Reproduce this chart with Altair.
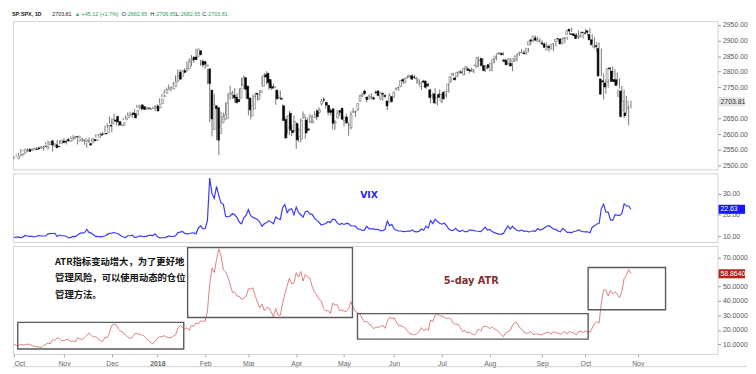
import altair as alt
import pandas as pd

# ---------------- data (S&P 500 daily candles, Oct 2 2017 .. Oct 29 2018) ----------------
open_ = [
 2521,2530,2533,2540,2547,2551,2549,2550,2552,2556,2555,2556,2562,2553,2567,2579,2568,2566,2561,2570,2578,2576,
 2583,2577,2581,2587,2592,2588,2581,2580,2576,2577,2570,2572,2583,2580,2589,2600,2600,2603,2606,2628,2634,
 2645,2657,2640,2627,2628,2646,2653,2661,2668,2666,2661,2685,2694,2688,2683,2684,2680,2683,2686,2690,
 2684,2698,2720,2731,2743,2751,2745,2752,2770,2798,2785,2803,2802,2809,2835,2846,2847,2848,2867,2833,2832,
 2817,2809,2741,2615,2691,2685,2602,2636,2646,2651,2713,2727,2725,2718,2711,2715,2757,2781,2754,
 2716,2658,2681,2731,2711,2733,2753,2790,2795,2775,2752,2750,2741,2716,2715,2691,2647,2620,2667,2612,2610,
 2634,2593,2585,2654,2645,2617,2638,2636,2653,2675,2670,2697,2710,2702,2692,2676,2681,2635,2652,2675,2683,
 2643,2655,2629,2621,2670,2671,2678,2705,2723,2738,2719,2713,2719,2717,2735,2738,2713,2731,2724,2706,2702,2720,
 2719,2742,2749,2753,2775,2765,2780,2785,2787,2783,2777,2766,2752,2770,2770,2760,2742,2722,2729,2699,2728,
 2705,2734,2724,2738,2766,2789,2780,2784,2797,2799,2790,2811,2809,2805,2800,2820,2817,2836,2842,2819,2810,
 2822,2803,2829,2841,2856,2857,2858,2838,2836,2828,2827,2831,2838,2854,2861,2860,2860,2862,2885,2902,2900,2908,2898,
 2897,2892,2889,2869,2882,2872,2889,2896,2906,2904,2891,2906,2919,2936,2921,2921,2917,2911,2911,
 2927,2924,2931,2919,2902,2878,2883,2874,2777,2771,2764,2768,2812,2802,2775,2774,2721,2738,2675,2668,2682.65,
]
high_ = [
 2529,2535,2540,2552,2550,2552,2555,2555,2555,2557,2559,2560,2563,2563,2575,2579,2573,2567,2567,2582,2580,2578,
 2588,2583,2588,2593,2597,2595,2587,2583,2588,2580,2572,2590,2583,2585,2600,2600,2605,2607,2628,2634,2657,
 2650,2666,2648,2634,2641,2652,2660,2670,2672,2669,2680,2694,2695,2691,2693,2686,2682,2685,2688,2693,
 2696,2715,2729,2743,2749,2759,2751,2768,2788,2807,2807,2806,2811,2833,2843,2853,2849,2873,2870,2838,2839,
 2835,2809,2763,2701,2728,2685,2639,2672,2669,2702,2731,2755,2738,2747,2731,2747,2780,2789,2761,
 2730,2694,2728,2732,2731,2741,2787,2796,2802,2777,2763,2762,2742,2725,2740,2695,2657,2660,2675,2630,2660,
 2638,2619,2650,2673,2656,2653,2665,2662,2674,2680,2686,2713,2718,2703,2694,2683,2683,2645,2677,2677,2683,
 2655,2665,2638,2673,2684,2676,2700,2726,2733,2742,2719,2727,2731,2720,2740,2742,2734,2732,2727,2707,2731,2722,
 2736,2749,2752,2772,2779,2779,2790,2790,2792,2790,2783,2775,2766,2774,2771,2765,2745,2733,2747,2725,2743,
 2727,2737,2737,2764,2784,2796,2786,2799,2805,2802,2811,2816,2811,2812,2808,2829,2848,2845,2843,2822,2824,
 2826,2829,2841,2853,2863,2863,2862,2842,2843,2844,2828,2851,2856,2860,2873,2868,2868,2876,2898,2903,2916,2913,2907,
 2900,2893,2893,2883,2884,2892,2895,2906,2908,2909,2912,2912,2935,2941,2923,2924,2932,2927,2920,
 2937,2932,2939,2920,2910,2894,2894,2874,2795,2775,2776,2814,2817,2807,2797,2779,2754,2743,2723,2692,2706.85,
]
low_ = [
 2520,2528,2532,2539,2545,2541,2543,2547,2548,2552,2552,2552,2557,2548,2567,2564,2566,2544,2559,2566,2569,2572,
 2574,2567,2576,2585,2584,2585,2567,2576,2575,2566,2557,2572,2576,2575,2589,2594,2599,2598,2606,2620,2634,
 2606,2639,2627,2625,2628,2645,2651,2660,2662,2652,2657,2685,2680,2676,2683,2678,2677,2678,2684,2673,
 2682,2698,2719,2728,2737,2747,2736,2752,2768,2768,2776,2789,2795,2808,2830,2817,2828,2847,2852,2819,2814,
 2809,2760,2638,2593,2681,2581,2533,2622,2646,2648,2689,2725,2713,2701,2698,2714,2753,2744,2713,
 2660,2647,2675,2712,2708,2722,2753,2780,2759,2742,2741,2749,2694,2714,2710,2642,2585,2602,2597,2594,2610,
 2553,2575,2574,2649,2586,2610,2636,2635,2653,2645,2665,2692,2704,2682,2660,2660,2615,2613,2651,2659,2648,
 2625,2633,2595,2615,2668,2655,2675,2705,2719,2725,2702,2712,2711,2709,2727,2721,2709,2707,2715,2677,2702,2700,
 2718,2741,2739,2750,2760,2763,2779,2780,2775,2776,2761,2757,2741,2764,2745,2751,2699,2712,2699,2692,2718,
 2699,2712,2717,2733,2766,2786,2772,2784,2793,2794,2789,2805,2795,2799,2795,2811,2815,2834,2808,2799,2808,
 2810,2801,2827,2836,2855,2853,2852,2826,2820,2828,2802,2831,2833,2850,2861,2858,2854,2862,2885,2894,2898,2896,2893,
 2885,2876,2873,2864,2873,2866,2880,2896,2895,2887,2891,2902,2919,2927,2913,2913,2904,2911,2906,
 2918,2915,2922,2893,2874,2862,2874,2785,2711,2729,2749,2768,2782,2756,2760,2746,2692,2652,2668,2628,2682.65,
]
close_ = [
 2529,2535,2538,2552,2549,2545,2551,2555,2551,2553,2558,2559,2561,2562,2575,2565,2569,2557,2560,2581,2573,2575,
 2579,2580,2588,2591,2591,2594,2585,2582,2585,2579,2565,2586,2579,2582,2599,2597,2602,2601,2627,2626,2648,
 2642,2639,2630,2629,2637,2652,2660,2664,2663,2652,2676,2690,2681,2679,2685,2683,2681,2683,2688,2674,
 2696,2713,2724,2743,2748,2751,2748,2768,2786,2776,2803,2798,2810,2833,2839,2838,2839,2873,2854,2822,2824,
 2822,2762,2649,2695,2682,2581,2620,2656,2663,2699,2731,2732,2716,2701,2704,2747,2780,2744,2714,
 2678,2691,2721,2728,2727,2739,2787,2783,2765,2749,2747,2752,2713,2717,2712,2644,2588,2659,2613,2605,2641,
 2582,2614,2645,2663,2604,2613,2657,2642,2664,2656,2678,2706,2709,2693,2670,2670,2635,2639,2667,2670,2648,
 2655,2636,2630,2663,2673,2672,2698,2723,2728,2730,2711,2722,2720,2713,2733,2724,2733,2728,2721,2690,2724,2705,
 2735,2747,2749,2772,2770,2779,2782,2787,2776,2782,2780,2774,2763,2767,2750,2755,2717,2723,2700,2716,2718,
 2727,2713,2737,2760,2784,2794,2774,2798,2801,2798,2810,2816,2804,2802,2807,2820,2846,2837,2819,2803,2816,
 2813,2827,2840,2850,2858,2858,2854,2833,2822,2840,2818,2841,2850,2857,2863,2862,2857,2875,2897,2898,2914,2901,2902,
 2897,2889,2878,2872,2877,2888,2889,2904,2905,2889,2904,2908,2931,2930,2919,2916,2906,2914,2914,
 2925,2923,2926,2902,2886,2884,2880,2786,2728,2767,2751,2810,2809,2769,2768,2756,2741,2656,2706,2659,2703.81,
]
vix_ = [
 9.45,9.51,9.63,9.19,9.65,10.33,10.08,9.85,9.91,9.61,9.91,10.31,10.07,10.05,10.07,11.07,11.16,11.23,11.30,9.80,10.50,10.18,
 10.18,9.93,9.14,9.40,9.89,9.78,10.50,11.29,11.50,11.59,13.13,11.76,11.43,10.65,9.73,9.88,9.67,9.87,10.03,10.70,11.28,
 11.43,11.68,11.33,11.02,10.16,9.58,9.34,10.18,10.18,10.49,9.42,9.53,10.03,10.03,9.72,9.90,10.25,10.47,10.18,11.04,
 9.77,9.15,9.22,9.22,9.52,10.08,9.82,9.88,10.16,11.66,11.91,12.22,11.27,11.03,11.10,11.47,11.58,11.08,13.84,14.79,13.54,
 13.47,17.31,37.32,29.98,27.73,33.46,29.06,25.61,24.97,19.26,19.13,19.46,20.60,20.02,18.72,16.49,15.80,18.59,19.85,
 22.47,19.59,18.73,18.36,17.76,16.54,14.64,15.78,16.35,17.23,16.59,15.80,19.02,18.20,17.86,23.34,24.87,21.03,22.50,22.87,19.97,
 23.62,21.10,20.06,18.94,21.49,21.77,20.47,20.24,18.49,17.41,16.56,15.25,15.60,15.96,16.88,16.34,18.02,17.84,16.24,15.41,15.93,
 15.49,15.97,15.90,14.77,14.75,14.71,13.42,13.23,12.65,12.93,14.63,13.42,13.43,13.42,13.08,13.22,12.58,12.53,13.22,17.02,14.94,15.43,
 13.46,12.74,12.40,12.40,12.13,12.18,12.35,12.34,12.94,12.12,11.98,12.31,13.35,12.79,14.64,13.77,17.33,15.92,17.91,16.85,16.09,
 15.60,16.14,14.97,13.37,12.69,12.64,13.63,12.58,12.18,12.83,12.06,12.10,12.87,12.86,12.62,12.41,12.29,12.14,13.03,14.26,12.83,
 13.15,12.19,11.64,11.27,10.93,10.85,11.27,13.16,14.78,13.31,14.64,13.45,12.64,12.49,12.86,12.25,12.41,11.99,12.16,12.50,12.25,13.53,12.86,
 13.16,13.91,14.65,14.88,14.16,13.22,13.14,12.37,12.07,13.68,12.79,11.75,11.80,11.68,12.20,12.42,12.89,12.41,12.12,
 12.00,12.05,11.61,14.22,14.82,15.69,15.95,22.96,24.98,21.31,21.30,17.62,17.40,20.06,19.89,19.64,20.71,25.23,24.22,24.16,22.63,
]
atr_ = [
 10.0,9.4,9.1,10.1,9.5,9.8,10.2,9.8,9.2,8.6,8.3,8.2,7.8,9.2,10.0,11.0,10.4,13.3,12.7,14.5,14.0,12.4,
 12.7,13.4,13.1,12.1,12.3,11.8,14.8,13.7,13.5,14.6,16.1,17.9,16.3,15.0,15.6,13.7,12.6,11.9,14.9,14.7,18.0,
 23.2,24.0,23.4,20.5,19.0,18.2,16.4,15.1,14.1,14.7,17.4,17.5,17.0,16.6,16.1,14.5,12.8,11.6,10.3,12.2,
 14.2,15.2,15.3,16.0,15.2,14.6,14.7,15.7,16.6,21.0,23.0,21.8,20.7,21.5,19.8,23.0,22.6,24.9,24.1,26.3,26.0,
 26.0,33.2,51.6,62.9,59.7,68.6,76.1,71.3,61.6,60.1,56.5,51.2,46.0,46.0,43.4,43.3,41.2,42.0,43.2,
 48.6,48.3,49.2,43.4,39.3,35.2,37.8,33.4,35.3,35.2,32.6,29.1,34.9,30.3,30.2,38.2,45.0,50.4,55.9,51.9,52.5,
 59.6,56.5,60.4,53.9,58.5,56.6,55.7,50.0,46.4,44.1,41.3,40.0,34.8,33.2,33.4,31.3,38.6,37.3,37.4,33.5,33.8,
 33.0,32.8,34.8,39.5,35.8,32.8,31.9,31.1,27.7,25.6,26.0,24.0,23.2,20.8,22.0,21.8,22.5,23.2,21.1,25.7,28.8,27.8,
 28.4,25.5,23.0,23.0,22.2,21.0,19.0,17.2,17.2,16.5,17.6,18.7,21.6,19.5,20.8,19.6,26.9,25.7,30.2,30.8,30.0,
 29.6,28.7,27.8,28.4,27.5,24.4,23.9,24.1,21.7,19.0,19.6,17.9,18.5,17.4,16.5,17.6,20.7,19.0,22.2,22.4,22.1,
 20.9,22.3,20.6,19.9,18.5,16.8,15.4,17.9,18.9,19.6,23.3,25.2,24.8,21.8,20.7,18.5,17.6,17.9,18.9,16.9,17.1,17.3,16.7,
 16.7,17.6,18.1,18.3,17.0,18.8,18.0,17.8,16.9,17.9,18.9,17.1,19.1,18.1,17.9,16.5,18.8,19.2,18.2,
 19.2,18.7,18.4,21.3,24.2,25.8,24.6,38.7,47.8,47.6,43.5,47.4,44.9,46.5,44.6,42.3,46.6,55.5,57.8,61.8,58.864,
]
# month-start bar indices and their tick labels
month_idx = [0, 22, 43, 63, 84, 103, 124, 145, 167, 188, 209, 232, 251, 274]
month_lbl = ["Oct", "Nov", "Dec", "2018", "Feb", "Mar", "Apr", "May", "Jun", "Jul", "Aug", "Sep", "Oct", "Nov"]

# axis ticks (labels hidden by the last-value boxes are left out, as in the reference)
price_ticks = [2500, 2550, 2600, 2650, 2750, 2800, 2850, 2900, 2950]
vix_ticks = [10, 20, 30]
atr_ticks = [10, 20, 30, 40, 50, 70]

# annotation boxes on the ATR pane (bar index / ATR value)
box_x1 = [1.7, 76.3, 150.9, 252.2]
box_x2 = [74.6, 148.7, 252.2, 286.2]
box_lo = [6.8, 28.6, 13.6, 34.0]
box_hi = [25.2, 77.0, 31.3, 63.2]

note_lines = ["ATR指标变动增大，为了更好地", "管理风险，可以使用动态的仓位", "管理方法。"]
note_x = 18.1
note_y = [67.3, 55.7, 44.2]

header_text = ["SP:SPX, 1D", "2703.81", "▲", "+45.12 (+1.7%)", "O:", "2682.65", "H:", "2706.85",
               "L:", "2682.65", "C:", "2703.81"]
header_col = ["#222222", "#222222", "#26a65b", "#26a65b", "#222222", "#26a65b", "#222222", "#26a65b",
              "#222222", "#26a65b", "#222222", "#26a65b"]
header_bold = [True] + [False] * 11
header_x = [-1, 40, 63, 70, 111, 117, 140, 146, 166, 171, 193, 199]

# ---------------- chart ----------------
n = len(close_)
df = pd.DataFrame({"i": list(range(n)), "o": open_, "h": high_, "l": low_, "c": close_,
                   "vix": vix_, "atr": atr_})

W = 718
H1, H2, H3 = 151, 70, 110
FONT = "Liberation Sans"
xs = alt.Scale(domain=[-0.43, 309.05], nice=False, zero=False)
p_dom = [2487.4, 2961.6]
v_dom = [7.23, 39.56]
a_dom = [3.41, 78.15]
ps = alt.Scale(domain=p_dom, nice=False, zero=False)
vs = alt.Scale(domain=v_dom, nice=False, zero=False)
as_ = alt.Scale(domain=a_dom, nice=False, zero=False)


def raxis(values, fmt):
    return alt.Axis(orient="right", values=values, format=fmt, labelFontSize=7, labelColor="#555555",
                    labelFont=FONT, tickColor="#999999", tickSize=3, domain=False, grid=False,
                    labelPadding=2, title=None)


pax = raxis(price_ticks, ".2f")
vax = raxis(vix_ticks, ".2f")
aax = raxis(atr_ticks, ".4f")

label_expr = ""
for k, t in zip(month_idx, month_lbl):
    label_expr += f"datum.value == {k} ? '{t}' : "
label_expr += "''"
xax = alt.Axis(values=month_idx, labelExpr=label_expr, labelFontSize=7, labelColor="#666666",
               labelFont=FONT, tickColor="#aaaaaa", tickSize=3, domain=False, grid=False,
               labelPadding=3, title=None,
               labelAlign={"condition": {"test": "datum.value == 0", "value": "left"}, "value": "center"},
               labelFontWeight={"condition": {"test": "datum.value == 63", "value": "bold"}, "value": "normal"})

X0 = alt.X("i:Q", scale=xs, axis=None)
base = alt.Chart(df)


def value_box(value, text, dom, h, fill, txt_color, scale, axis):
    half = 4.6 * (dom[1] - dom[0]) / h
    d = pd.DataFrame({"v": [value], "lo": [value - half], "hi": [value + half], "t": [text]})
    box = alt.Chart(d).mark_rect(fill=fill).encode(
        x=alt.value(W + 1), x2=alt.value(W + 28),
        y=alt.Y("lo:Q", scale=scale, axis=axis), y2="hi:Q")
    lab = alt.Chart(d).mark_text(align="left", baseline="middle", fontSize=7, font=FONT, color=txt_color).encode(
        x=alt.value(W + 3), y=alt.Y("v:Q", scale=scale, axis=axis), text="t:N")
    return box + lab


# ---- price pane ----
wick = base.mark_rule(color="#555555", strokeWidth=0.8).encode(
    x=X0, y=alt.Y("l:Q", scale=ps, axis=pax), y2="h:Q")
body = base.mark_bar(size=1.8, strokeWidth=0.6).encode(
    x=X0, y=alt.Y("o:Q", scale=ps, axis=pax), y2="c:Q",
    fill=alt.condition("datum.c >= datum.o", alt.value("#ffffff"), alt.value("#000000")),
    stroke=alt.condition("datum.c >= datum.o", alt.value("#666666"), alt.value("#000000")))
hdf = pd.DataFrame({"t": header_text, "col": header_col, "b": header_bold, "x": header_x})
hx = alt.X("x:Q", scale=alt.Scale(domain=[0, W], range=[0, W]), axis=None)
header_b = alt.Chart(hdf).transform_filter("datum.b").mark_text(
    align="left", baseline="middle", fontSize=5.5, font=FONT, fontWeight="bold").encode(
    x=hx, y=alt.value(-7), text="t:N", color=alt.Color("col:N", scale=None))
header_n = alt.Chart(hdf).transform_filter("!datum.b").mark_text(
    align="left", baseline="middle", fontSize=5.5, font=FONT).encode(
    x=hx, y=alt.value(-7), text="t:N", color=alt.Color("col:N", scale=None))
price = alt.layer(wick, body,
                  value_box(close_[-1], f"{close_[-1]:.2f}", p_dom, H1, "#e3e3e3", "#333333", ps, pax),
                  header_b, header_n).resolve_scale(x="independent").properties(width=W, height=H1)

# ---- VIX pane ----
vline = base.mark_line(color="#3b3bf7", strokeWidth=1.2).encode(
    x=X0, y=alt.Y("vix:Q", scale=vs, axis=vax))
vtxt = alt.Chart(pd.DataFrame({"x": [156.0], "y": [29.4], "t": ["VIX"]})).mark_text(
    fontSize=9.5, fontWeight="bold", font="DejaVu Sans", color="#2323f0").encode(
    x=alt.X("x:Q", scale=xs, axis=None), y=alt.Y("y:Q", scale=vs, axis=vax), text="t:N")
vixp = alt.layer(vline, vtxt,
                 value_box(vix_[-1], f"{vix_[-1]:.2f}", v_dom, H2, "#1515ff", "#ffffff", vs, vax)
                 ).properties(width=W, height=H2)

# ---- ATR pane ----
XA = alt.X("i:Q", scale=xs, axis=xax)
aline = base.mark_line(color="#d77272", strokeWidth=0.9).encode(
    x=XA, y=alt.Y("atr:Q", scale=as_, axis=aax))
bdf = pd.DataFrame({"x1": box_x1, "x2": box_x2, "lo": box_lo, "hi": box_hi})
boxes = alt.Chart(bdf).mark_rect(fillOpacity=0, stroke="#5a5a5a", strokeWidth=1.4).encode(
    x=alt.X("x1:Q", scale=xs, axis=xax), x2="x2:Q",
    y=alt.Y("lo:Q", scale=as_, axis=aax), y2="hi:Q")
ndf = pd.DataFrame({"x": [note_x] * 3, "y": note_y, "t": note_lines})
notes = alt.Chart(ndf).mark_text(align="left", baseline="middle", fontSize=9.5, fontWeight="bold",
                                 font="Noto Sans CJK SC", color="#111111").encode(
    x=alt.X("x:Q", scale=xs, axis=xax), y=alt.Y("y:Q", scale=as_, axis=aax), text="t:N")
atitle = alt.Chart(pd.DataFrame({"x": [200.9], "y": [53.7], "t": ["5-day ATR"]})).mark_text(
    fontSize=10, fontWeight="bold", font="DejaVu Sans", color="#7e2f2f").encode(
    x=alt.X("x:Q", scale=xs, axis=xax), y=alt.Y("y:Q", scale=as_, axis=aax), text="t:N")
bottom_line = alt.Chart(pd.DataFrame({"k": [0]})).mark_rule(color="#d0d0d0", strokeWidth=1).encode(
    x=alt.value(0), x2=alt.value(W + 30), y=alt.value(H3 + 13))
atrp = alt.layer(aline, boxes, notes, atitle,
                 value_box(atr_[-1], f"{atr_[-1]:.4f}", a_dom, H3, "#b3261e", "#ffffff", as_, aax),
                 bottom_line).properties(width=W, height=H3)

chart = alt.vconcat(price, vixp, atrp, spacing=2).properties(
    padding={"left": 3, "right": 0, "top": 0, "bottom": 0}, background="#ffffff"
).configure_view(stroke="#d2d2d2", strokeWidth=1)

chart.save("out.html", embed_options={"renderer": "svg", "actions": False})
